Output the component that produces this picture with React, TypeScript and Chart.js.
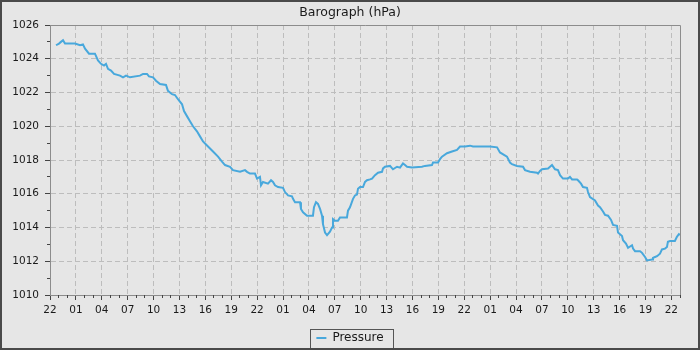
import React, { useEffect, useRef } from 'react';
import { Chart, registerables } from 'chart.js';

Chart.register(...registerables);

const chartTitle = 'Barograph (hPa)';
const seriesLabel = 'Pressure';

// hours elapsed since the first "22" tick
const hours = [
  0.70, 1.04, 1.27, 1.51, 1.74, 2.90, 3.48, 3.82, 4.06, 4.52, 5.21, 5.56, 5.91, 6.26, 6.49, 6.72,
  7.07, 7.42, 8.11, 8.46, 8.81, 9.27, 10.43, 10.78, 11.24, 11.47, 11.94, 12.28, 12.75, 13.44, 13.67,
  14.14, 14.48, 14.83, 15.30, 15.53, 15.87, 16.22, 16.57, 17.03, 17.38, 17.73, 18.31, 18.89, 19.47,
  19.93, 20.28, 20.86, 21.20, 22.02, 22.60, 22.83, 23.17, 23.75, 23.99, 24.33, 24.45, 24.68, 25.26,
  25.61, 25.84, 26.07, 26.42, 27.00, 27.23, 27.58, 28.04, 28.16, 28.39, 28.97, 29.08, 29.32, 29.78,
  30.47, 30.59, 30.82, 31.05, 31.29, 31.52, 31.63, 31.87, 32.10, 32.44, 32.68, 32.79, 33.02, 33.37,
  33.60, 34.41, 34.53, 34.76, 35.11, 35.34, 35.57, 35.69, 35.92, 36.27, 36.50, 36.73, 37.08, 37.31,
  37.66, 38.01, 38.47, 38.59, 38.82, 39.40, 39.74, 40.21, 40.56, 40.90, 41.14, 41.37, 41.95, 43.10,
  43.45, 44.26, 44.38, 44.96, 45.19, 45.42, 46.00, 46.58, 47.16, 47.51, 48.09, 48.67, 49.01, 50.98,
  51.80, 52.14, 52.95, 53.30, 53.53, 54.11, 54.81, 55.04, 55.62, 56.43, 56.55, 56.78, 57.01, 57.71,
  57.94, 58.17, 58.52, 58.86, 59.10, 59.44, 60.02, 60.25, 60.49, 61.07, 61.18, 61.53, 61.76, 62.22,
  62.34, 62.57, 63.15, 63.50, 63.73, 64.08, 64.31, 64.66, 65.01, 65.24, 65.70, 65.82, 66.28, 66.40,
  66.74, 66.98, 67.44, 67.56, 67.79, 68.37, 68.60, 68.95, 69.18, 69.76, 69.87, 70.10, 70.34, 70.68,
  70.91, 71.26, 71.49, 71.60, 71.84, 72.41, 72.64, 72.87, 72.99,
];

const pressure = [
  1024.8, 1024.9, 1025.0, 1025.1, 1024.9, 1024.9, 1024.8, 1024.85, 1024.6, 1024.3, 1024.3, 1023.9, 1023.7, 1023.6, 1023.7, 1023.4,
  1023.3, 1023.1, 1023.0, 1022.9, 1023.0, 1022.9, 1023.0, 1023.1, 1023.1, 1022.95, 1022.9, 1022.7, 1022.5, 1022.45, 1022.1,
  1021.9, 1021.85, 1021.6, 1021.3, 1020.9, 1020.6, 1020.3, 1020.0, 1019.7, 1019.4, 1019.1, 1018.8, 1018.5, 1018.2,
  1017.9, 1017.7, 1017.6, 1017.4, 1017.3, 1017.4, 1017.3, 1017.2, 1017.2, 1016.9, 1017.0, 1016.5, 1016.7, 1016.6,
  1016.8, 1016.7, 1016.5, 1016.4, 1016.35, 1016.1, 1015.9, 1015.85, 1015.7, 1015.5, 1015.5, 1015.1, 1014.9, 1014.7,
  1014.7, 1015.2, 1015.5, 1015.4, 1015.1, 1014.7, 1014.2, 1013.7, 1013.55, 1013.75, 1014.0, 1014.5, 1014.4, 1014.4,
  1014.6, 1014.6, 1015.0, 1015.2, 1015.7, 1015.9, 1015.95, 1016.3, 1016.4, 1016.4, 1016.7, 1016.8, 1016.85, 1016.9,
  1017.1, 1017.25, 1017.3, 1017.5, 1017.6, 1017.65, 1017.45, 1017.6, 1017.55, 1017.8, 1017.7, 1017.6, 1017.55, 1017.6,
  1017.65, 1017.7, 1017.85, 1017.85, 1018.05, 1018.2, 1018.4, 1018.5, 1018.6, 1018.8, 1018.8, 1018.85, 1018.8, 1018.8,
  1018.75, 1018.45, 1018.2, 1017.85, 1017.75, 1017.65, 1017.6, 1017.4, 1017.3, 1017.25, 1017.2, 1017.35, 1017.45, 1017.5,
  1017.6, 1017.7, 1017.45, 1017.4, 1017.1, 1016.9, 1016.9, 1017.0, 1016.85, 1016.85, 1016.8, 1016.6, 1016.4, 1016.35,
  1016.1, 1015.8, 1015.6, 1015.3, 1015.2, 1014.95, 1014.75, 1014.7, 1014.45, 1014.15, 1014.1, 1013.7, 1013.5, 1013.25,
  1013.05, 1012.8, 1012.95, 1012.75, 1012.6, 1012.6, 1012.5, 1012.25, 1012.05, 1012.1, 1012.2, 1012.25, 1012.3, 1012.45,
  1012.7, 1012.75, 1012.85, 1013.15, 1013.2, 1013.2, 1013.45, 1013.6, 1013.55,
];

const xTickLabels = [
  '22', '01', '04', '07', '10', '13', '16', '19',
  '22', '01', '04', '07', '10', '13', '16', '19',
  '22', '01', '04', '07', '10', '13', '16', '19', '22',
];

const X_MIN = 0;
const X_MAX = 73;
const X_MAJOR = 3;
const Y_MIN = 1010;
const Y_MAX = 1026;
const Y_MAJOR = 2;

const FONT = "'DejaVu Sans', sans-serif";
const LINE_COLOR = '#48a8dc';
const GRID_COLOR = '#bdbdbd';
const TICK_COLOR = '#444444';
const AXIS_COLOR = '#8c8c8c';
const TEXT_COLOR = '#1a1a1a';

const align = (p: number) => Math.round(p - 0.5) + 0.5;

const framePlugin = {
  id: 'frameExtras',
  afterLayout(chart: any) {
    // let the y tick labels use the space left of the axis box (labels are clipped to the scale box)
    const ys = chart.scales.y;
    if (ys) ys.left = 0;
  },
  afterDraw(chart: any) {
    const { ctx, chartArea: a, scales } = chart;
    ctx.save();
    ctx.lineWidth = 1;
    // minor tick marks
    ctx.strokeStyle = TICK_COLOR;
    ctx.beginPath();
    for (let h = X_MIN; h <= X_MAX; h++) {
      if (h % X_MAJOR === 0) continue;
      const px = align(scales.x.getPixelForValue(h));
      ctx.moveTo(px, a.bottom);
      ctx.lineTo(px, a.bottom + 3);
    }
    for (let v = Y_MIN; v <= Y_MAX; v++) {
      if (v % Y_MAJOR === 0) continue;
      const py = align(scales.y.getPixelForValue(v));
      ctx.moveTo(a.left - 3, py);
      ctx.lineTo(a.left, py);
    }
    ctx.stroke();
    // top and right frame of the plot
    ctx.strokeStyle = AXIS_COLOR;
    ctx.beginPath();
    const t = align(a.top);
    const r = align(a.right);
    ctx.moveTo(a.left, t);
    ctx.lineTo(r, t);
    ctx.lineTo(r, a.bottom);
    ctx.stroke();
    // legend border
    const lg = chart.legend;
    if (lg && lg.legendHitBoxes && lg.legendHitBoxes[0]) {
      const hb = lg.legendHitBoxes[0];
      ctx.strokeStyle = '#555555';
      const x0 = align(hb.left - 6);
      const y0 = align(hb.top - 3);
      const x1 = align(hb.left + hb.width + 10);
      const y1 = align(hb.top + hb.height + 4);
      ctx.strokeRect(x0, y0, x1 - x0, y1 - y0);
    }
    ctx.restore();
  },
};

export default function App() {
  const canvasRef = useRef<HTMLCanvasElement | null>(null);

  useEffect(() => {
    const canvas = canvasRef.current;
    if (!canvas) return;
    const points = hours.map((h, i) => ({ x: h, y: pressure[i] }));
    const chart = new Chart(canvas, {
      type: 'line',
      data: {
        datasets: [
          {
            label: seriesLabel,
            data: points,
            borderColor: LINE_COLOR,
            backgroundColor: LINE_COLOR,
            borderWidth: 2,
            pointRadius: 0,
            pointStyle: 'line',
            tension: 0,
            fill: false,
          },
        ],
      },
      options: {
        animation: false,
        responsive: false,
        maintainAspectRatio: false,
        layout: { padding: { left: 18, right: 18, top: 0, bottom: 2 } },
        plugins: {
          title: {
            display: true,
            text: chartTitle,
            color: TEXT_COLOR,
            font: { family: FONT, size: 12.5, weight: 'normal' },
            padding: { top: 3, bottom: 5 },
          },
          legend: {
            position: 'bottom',
            maxHeight: 20,
            labels: {
              usePointStyle: true,
              pointStyleWidth: 10,
              padding: 6,
              color: TEXT_COLOR,
              font: { family: FONT, size: 12 },
            },
          },
          tooltip: { enabled: false },
        },
        scales: {
          x: {
            type: 'linear',
            min: X_MIN,
            max: X_MAX,
            afterFit: (s: any) => {
              s.height = 31;
            },
            ticks: {
              stepSize: 1,
              autoSkip: false,
              maxRotation: 0,
              minRotation: 0,
              padding: 4,
              color: TEXT_COLOR,
              font: { family: FONT, size: 10.5 },
              callback: (v: any) => {
                const n = Number(v);
                return n % X_MAJOR === 0 ? xTickLabels[n / X_MAJOR] ?? '' : '';
              },
            },
            grid: {
              lineWidth: 1,
              tickLength: 5,
              color: (c: any) =>
                c.tick && c.tick.value % X_MAJOR === 0 && c.tick.value !== X_MIN ? GRID_COLOR : 'rgba(0,0,0,0)',
              tickColor: (c: any) =>
                c.tick && c.tick.value % X_MAJOR === 0 ? TICK_COLOR : 'rgba(0,0,0,0)',
            },
            border: { color: AXIS_COLOR, width: 1, dash: [5, 3] },
          },
          y: {
            type: 'linear',
            min: Y_MIN,
            max: Y_MAX,
            afterFit: (s: any) => {
              s.width = 30;
            },
            ticks: {
              stepSize: 1,
              autoSkip: false,
              padding: 6,
              color: TEXT_COLOR,
              font: { family: FONT, size: 10.5 },
              callback: (v: any) => {
                const n = Number(v);
                return n % Y_MAJOR === 0 ? String(n) : '';
              },
            },
            grid: {
              lineWidth: 1,
              tickLength: 5,
              color: (c: any) =>
                c.tick && c.tick.value % Y_MAJOR === 0 && c.tick.value !== Y_MIN && c.tick.value !== Y_MAX
                  ? GRID_COLOR
                  : 'rgba(0,0,0,0)',
              tickColor: (c: any) =>
                c.tick && c.tick.value % Y_MAJOR === 0 ? TICK_COLOR : 'rgba(0,0,0,0)',
            },
            border: { color: AXIS_COLOR, width: 1, dash: [5, 3] },
          },
        },
      },
      plugins: [framePlugin],
    });
    return () => {
      chart.destroy();
    };
  }, []);

  return (
    <div
      style={{
        position: 'absolute',
        left: 0,
        top: 0,
        width: 700,
        height: 350,
        boxSizing: 'border-box',
        border: '2px solid #4a4a4a',
        background: '#e6e6e6',
        overflow: 'hidden',
      }}
    >
      <canvas ref={canvasRef} width={696} height={346} style={{ display: 'block', width: 696, height: 346 }} />
    </div>
  );
}
